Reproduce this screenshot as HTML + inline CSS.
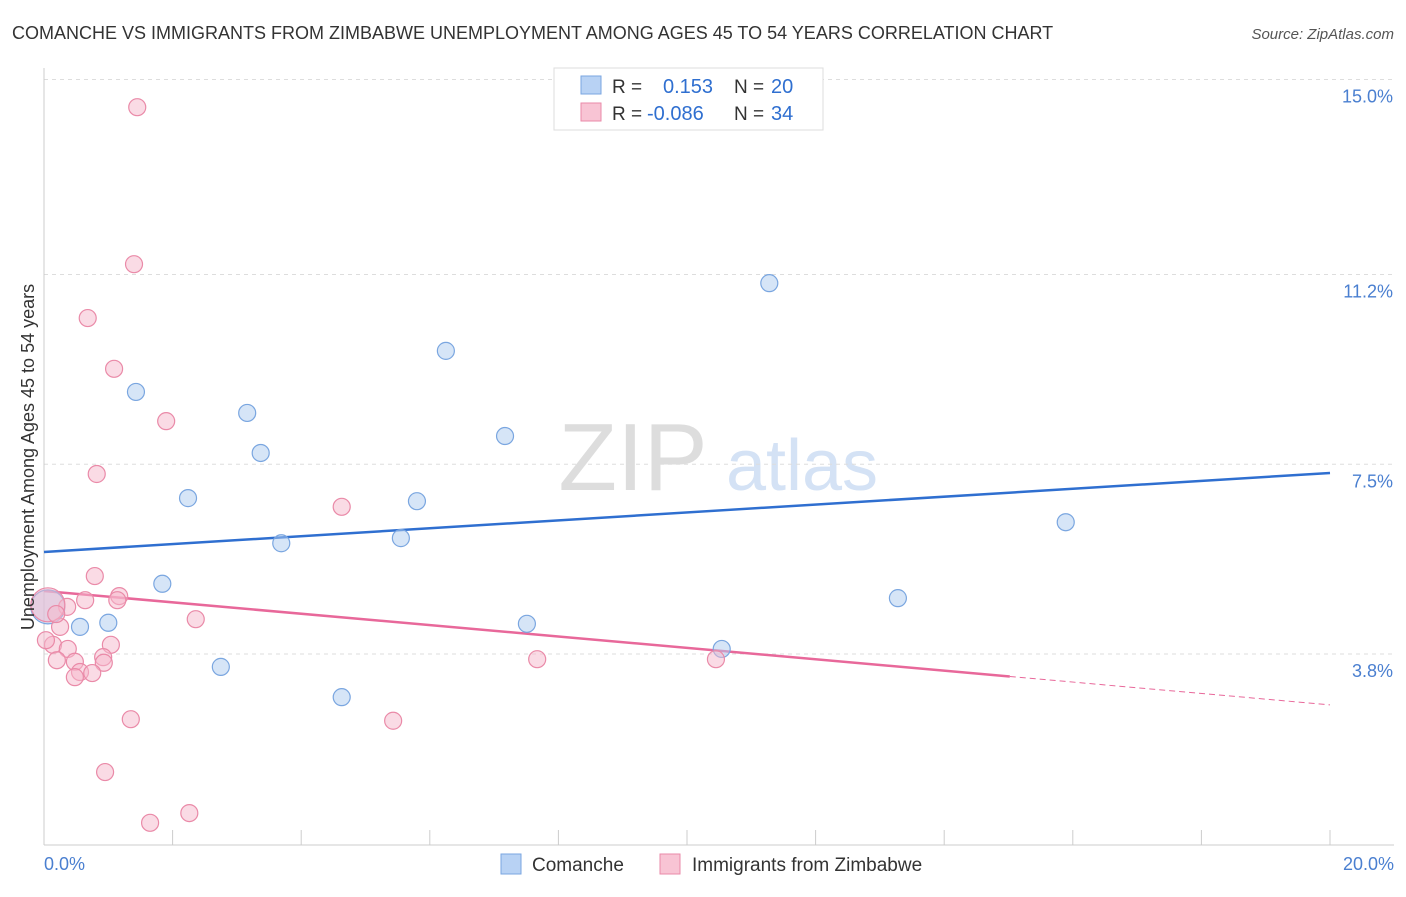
<!DOCTYPE html>
<html><head><meta charset="utf-8"><style>
body{margin:0;background:#fff;font-family:"Liberation Sans",sans-serif;}
svg text{font-family:"Liberation Sans",sans-serif;}
</style></head><body>
<svg id="chart" width="1406" height="892" xmlns="http://www.w3.org/2000/svg">
<text x="12" y="39" font-size="18" fill="#333">COMANCHE VS IMMIGRANTS FROM ZIMBABWE UNEMPLOYMENT AMONG AGES 45 TO 54 YEARS CORRELATION CHART</text>
<text x="1394" y="39" font-size="15" fill="#555" text-anchor="end" font-style="italic">Source: ZipAtlas.com</text>
<g>
<text x="633" y="490" font-size="96" fill="#ddd" font-family="Liberation Serif" text-anchor="middle">ZIP</text>
<text x="802" y="490" font-size="72" fill="#d4e2f5" text-anchor="middle">atlas</text>
</g>
<g id="grid"></g><g id="axes"></g><g id="lines"></g><g id="points"></g>
<text transform="translate(34,457) rotate(-90)" font-size="18" fill="#333" text-anchor="middle">Unemployment Among Ages 45 to 54 years</text>
<g>
<rect x="554" y="68" width="269" height="62" fill="#fff" stroke="#ddd"/>
<rect x="581" y="76" width="20" height="18" fill="#b8d2f4" stroke="#7aa6e0"/>
<rect x="581" y="103" width="20" height="18" fill="#f8c4d4" stroke="#ea8aa8"/>
<text x="612" y="93" font-size="19" fill="#333">R =</text><text x="663" y="93" font-size="20" fill="#2f6fd0">0.153</text>
<text x="734" y="93" font-size="19" fill="#333">N =</text><text x="771" y="93" font-size="20" fill="#2f6fd0">20</text>
<text x="612" y="120" font-size="19" fill="#333">R =</text><text x="647" y="120" font-size="20" fill="#2f6fd0">-0.086</text>
<text x="734" y="120" font-size="19" fill="#333">N =</text><text x="771" y="120" font-size="20" fill="#2f6fd0">34</text>
</g>
<g>
<rect x="501" y="854" width="20" height="20" fill="#b8d2f4" stroke="#7aa6e0"/>
<text x="532" y="871" font-size="19" fill="#333">Comanche</text>
<rect x="660" y="854" width="20" height="20" fill="#f8c4d4" stroke="#ea8aa8"/>
<text x="692" y="871" font-size="19" fill="#333">Immigrants from Zimbabwe</text>
</g>
</svg>
<script>
const yTicks=[3.8,7.5,11.2,15.0];
const yTickLabels=["3.8%","7.5%","11.2%","15.0%"];
const xTickLabels=["0.0%","20.0%"];
const blueX=[1.43,3.16,3.37,2.24,3.69,1.84,1.00,0.56,2.75,4.63,6.25,7.17,5.80,5.55,7.51,10.54,11.28,13.28,15.89,0.06];
const blueY=[8.91,8.50,7.72,6.84,5.96,5.17,4.41,4.33,3.55,2.96,9.71,8.05,6.78,6.06,4.39,3.90,11.03,4.89,6.37,4.72];
const pinkX=[1.45,1.40,0.68,1.09,1.90,0.82,4.63,0.79,1.17,0.64,1.14,0.36,2.36,0.25,0.14,0.37,1.04,0.92,0.20,0.48,0.93,0.56,0.75,0.48,7.67,10.45,1.35,5.43,0.95,1.65,2.26,0.06,0.03,0.19];
const pinkY=[14.46,11.40,10.35,9.36,8.34,7.31,6.67,5.32,4.93,4.85,4.85,4.72,4.48,4.33,3.98,3.90,3.98,3.74,3.68,3.65,3.63,3.45,3.43,3.35,3.70,3.70,2.53,2.50,1.50,0.51,0.70,4.76,4.07,4.58];
const blueTrend=[5.79,7.33];
const pinkTrend=[5.03,2.81];
const pinkSolidEnd=15.02;
const NS="http://www.w3.org/2000/svg";
const X=v=>44+v*64.3, Y=v=>849-v*51.3;
function mk(p,t,a){const e=document.createElementNS(NS,t);for(const k in a)e.setAttribute(k,a[k]);p.appendChild(e);return e;}
const grid=document.getElementById('grid'),axes=document.getElementById('axes'),lines=document.getElementById('lines'),pts=document.getElementById('points');
yTicks.forEach((t,i)=>{
 const g=mk(grid,'line',{x1:44,x2:1394,y1:Y(t),y2:Y(t),stroke:'#ddd','stroke-dasharray':'4,4'});
 
 
 const l=mk(axes,'text',{x:1393,y:Y(t)+23,'font-size':18,fill:'#4a7fd0','text-anchor':'end'});
 l.textContent=yTickLabels[i];
 
 
});
const ax=mk(axes,'line',{x1:44,x2:1394,y1:845,y2:845,stroke:'#ccc'});


const ay=mk(axes,'line',{x1:44,x2:44,y1:68,y2:845,stroke:'#ccc'});


for(let i=0;i<=10;i++){const t=mk(axes,'line',{x1:X(i*2),x2:X(i*2),y1:830,y2:845,stroke:'#ccc'});
 
 }
[[0,'start',44],[20,'end',1394]].forEach((d,i)=>{const l=mk(axes,'text',{x:d[2],y:870,'font-size':18,fill:'#4a7fd0','text-anchor':d[1]});l.textContent=xTickLabels[i];
 
 });
const bl=mk(lines,'line',{x1:X(0),y1:Y(blueTrend[0]),x2:X(20),y2:Y(blueTrend[1]),stroke:'#2f6fd0','stroke-width':2.5});


const py=x=>pinkTrend[0]+(pinkTrend[1]-pinkTrend[0])*x/20;
const pl=mk(lines,'line',{x1:X(0),y1:Y(py(0)),x2:X(pinkSolidEnd),y2:Y(py(pinkSolidEnd)),stroke:'#e8689a','stroke-width':2.5});


const pd=mk(lines,'line',{x1:X(pinkSolidEnd),y1:Y(py(pinkSolidEnd)),x2:X(20),y2:Y(py(20)),stroke:'#e8689a','stroke-width':1,'stroke-dasharray':'6,4'});


function dots(xs,ys,fill,stroke,name){xs.forEach((x,i)=>{const big=(x<0.1&&ys[i]>4.6&&ys[i]<4.8);
 const c=mk(pts,'circle',{cx:X(x),cy:Y(ys[i]),r:big?17:8.5,fill:fill,'fill-opacity':0.5,stroke:stroke,'stroke-width':1.2});
 
 });}
dots(blueX,blueY,'#aecbf0','#7aa6e0','comanche-point');
dots(pinkX,pinkY,'#f6b8cb','#ea8aa8','zimbabwe-point');
</script>
</body></html>
